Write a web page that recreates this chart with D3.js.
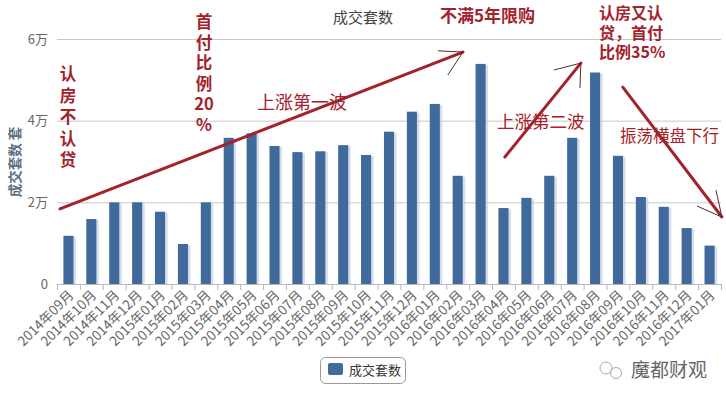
<!DOCTYPE html>
<html><head><meta charset="utf-8">
<script src="https://cdn.jsdelivr.net/npm/d3@7/dist/d3.min.js"></script>
<style>body{margin:0;background:#fff}svg{display:block}text{font-family:"Noto Sans CJK SC","Noto Sans",sans-serif}</style>
</head><body><svg id="c" width="726" height="397"></svg>
<script>
const months = ["2014年09月","2014年10月","2014年11月","2014年12月","2015年01月","2015年02月","2015年03月","2015年04月","2015年05月","2015年06月","2015年07月","2015年08月","2015年09月","2015年10月","2015年11月","2015年12月","2016年01月","2016年02月","2016年03月","2016年04月","2016年05月","2016年06月","2016年07月","2016年08月","2016年09月","2016年10月","2016年11月","2016年12月","2017年01月"];
const deals = [11800,15900,20000,20000,17700,9800,20000,35800,36900,33800,32300,32500,34000,31600,37300,42200,44100,26500,53900,18600,21100,26500,35800,51800,31400,21300,18900,13700,9400];
const yTicks = [0,20000,40000,60000];
const yTickLabels = ["0","2万","4万","6万"];
const seriesName = "成交套数";

const svg = d3.select("#c");
const x = d3.scaleBand().domain(months).range([57,721]).paddingInner(0.56).paddingOuter(0.28);
const y = d3.scaleLinear().domain([0,60000]).range([284,39]);
const ix = i => x(months[0]) + x.bandwidth()/2 + i*x.step();

// grid
svg.append("g").selectAll("line").data(yTicks.filter(d=>d>0)).join("line")
  .attr("x1",57).attr("x2",721).attr("y1",d=>y(d)+0.5).attr("y2",d=>y(d)+0.5)
  .attr("stroke","#c8c8c8").attr("stroke-width",1);
// y labels
svg.append("g").selectAll("text").data(yTicks).join("text")
  .attr("x",48).attr("y",d=>y(d)+4.5).attr("text-anchor","end")
  .attr("font-size",13).attr("fill","#666").text((d,i)=>yTickLabels[i]);
// y title
svg.append("text").attr("transform","translate(20,162) rotate(-90)")
  .attr("text-anchor","middle").attr("font-size",13.5).attr("font-weight","bold")
  .attr("fill","#5d6f86").text("成交套数 套");
// title
svg.append("text").attr("x",363).attr("y",23).attr("text-anchor","middle")
  .attr("font-size",15).attr("fill","#444").text(seriesName);

// bars shadow + bars
const bars = svg.append("g");
bars.selectAll("rect.s").data(deals).join("rect").attr("class","s")
  .attr("x",(d,i)=>x(months[i])+1.5).attr("y",d=>y(d)+1).attr("width",x.bandwidth()+1)
  .attr("height",d=>284-y(d)-1).attr("fill","#b9c8da").attr("opacity",0.6);
bars.selectAll("rect.b").data(deals).join("rect").attr("class","b")
  .attr("x",(d,i)=>x(months[i])).attr("y",d=>y(d)).attr("width",x.bandwidth())
  .attr("height",d=>284-y(d)).attr("fill","#40699c");

// x axis
const gx = svg.append("g").attr("transform","translate(0,284)");
gx.append("line").attr("x1",57).attr("x2",721).attr("y1",0.5).attr("y2",0.5).attr("stroke","#b8b8b8");
gx.selectAll("line.t").data(d3.range(months.length+1)).join("line").attr("class","t")
  .attr("x1",i=>57+i*x.step()+0.5).attr("x2",i=>57+i*x.step()+0.5).attr("y1",0).attr("y2",6).attr("stroke","#b8b8b8");
gx.selectAll("text").data(months).join("text")
  .attr("transform",d=>`translate(${x(d)+x.bandwidth()/2+6},${12}) rotate(-45)`)
  .attr("text-anchor","end").attr("font-size",13.5).attr("fill","#666").text(d=>d);

// annotations
const red = "#a3222c";
const arrows = [
  {a:[-0.37,18400], b:[17.23,56800], h:[[16.14,57100],[16.57,51200]]},
  {a:[19.06,31100], b:[22.38,54100], h:[[21.2,52400],[22.34,48000]]},
  {a:[24.21,48200], b:[28.54,16400], h:[[27.45,19100],[28.28,23000]]}
];
const ann = svg.append("g");
arrows.forEach(ar=>{
  ann.append("line").attr("x1",ix(ar.a[0])).attr("y1",y(ar.a[1])).attr("x2",ix(ar.b[0])).attr("y2",y(ar.b[1]))
    .attr("stroke",red).attr("stroke-width",3).attr("stroke-linecap","round");
  ar.h.forEach(p=>ann.append("line").attr("x1",ix(p[0])).attr("y1",y(p[1])).attr("x2",ix(ar.b[0])).attr("y2",y(ar.b[1]))
    .attr("stroke","#5a2a2a").attr("stroke-width",1));
});
function lines(rows,x0,y0,dy,size,anchor){
  const t = ann.append("text").attr("font-size",size).attr("font-weight","bold").attr("fill",red)
    .attr("text-anchor",anchor);
  rows.forEach((c,i)=>t.append("tspan").attr("x",x0).attr("y",y0+i*dy).text(c));
}
lines(["认","房","不","认","贷"],68,80,21.5,16.5,"middle");
lines(["首","付","比","例","20","%"],204,28,20.5,16.5,"middle");
lines(["认房又认","贷，首付","比例35%"],599,19,19.5,16,"start");
function htext(t,x0,y0,size,bold){
  ann.append("text").attr("x",x0).attr("y",y0).attr("font-size",size).attr("font-weight",bold?"bold":"normal").attr("fill",red).text(t);
}
htext("上涨第一波",257,109,18,false);
htext("不满5年限购",440,22,17,true);
htext("上涨第二波",497,128,17.5,false);
htext("振荡横盘下行",620,142,16.5,false);

// legend
const lg = svg.append("g");
lg.append("rect").attr("x",320.5).attr("y",357.5).attr("width",85).attr("height",26).attr("rx",5)
  .attr("fill","#fff").attr("stroke","#999");
lg.append("rect").attr("x",328).attr("y",363).attr("width",15).attr("height",12).attr("rx",2).attr("fill","#40699c");
lg.append("text").attr("x",349).attr("y",375).attr("font-size",13).attr("fill","#333").text(seriesName);

// watermark
const wm = svg.append("g");
wm.append("circle").attr("cx",606).attr("cy",368).attr("r",6).attr("fill","none").attr("stroke","#aaa");
wm.append("circle").attr("cx",616).attr("cy",373).attr("r",5.5).attr("fill","none").attr("stroke","#aaa");
wm.append("text").attr("x",631).attr("y",377).attr("font-size",19).attr("fill","#666").text("魔都财观");
</script></body></html>
